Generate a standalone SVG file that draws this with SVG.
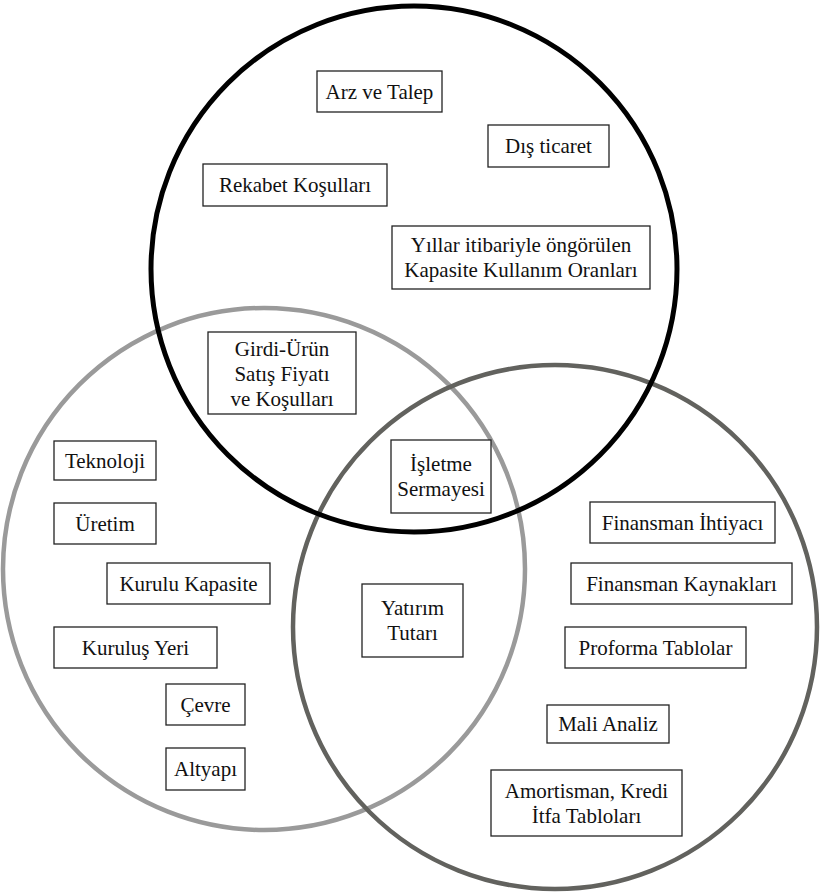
<svg xmlns="http://www.w3.org/2000/svg" width="820" height="894" viewBox="0 0 820 894">
<style>
.c{fill:none}
.b{fill:#fff;stroke:#222;stroke-width:1.3}
.t text{font-family:'Liberation Serif','Times New Roman',serif;font-size:21px;fill:#111;text-anchor:middle;dominant-baseline:central}
</style>
<rect width="820" height="894" fill="#fff"/>
<g id="circles">
<circle id="c-left" class="c" cx="264" cy="569" r="261" stroke="#9a9a9a" stroke-width="4.5"/>
<circle id="c-right" class="c" cx="555" cy="627" r="262" stroke="#62625e" stroke-width="4.5"/>
<circle id="c-top" class="c" cx="414" cy="269" r="263" stroke="#000" stroke-width="5"/>
</g>
<g class="t" font-family="Liberation Serif, Times New Roman, serif" font-size="21">
<g id="n1"><rect class="b" x="317" y="71" width="125" height="41"/><text x="379.5" y="91.5">Arz ve Talep</text></g>
<g id="n2"><rect class="b" x="488" y="125" width="121" height="42"/><text x="548.5" y="146">Dış ticaret</text></g>
<g id="n3"><rect class="b" x="203" y="164" width="184" height="42"/><text x="295" y="185">Rekabet Koşulları</text></g>
<g id="n4"><rect class="b" x="392" y="226" width="258" height="63"/><text x="521" y="245">Yıllar itibariyle öngörülen</text><text x="521" y="270">Kapasite Kullanım Oranları</text></g>
<g id="n5"><rect class="b" x="208" y="332" width="148" height="82"/><text x="282" y="349">Girdi-Ürün</text><text x="282" y="374">Satış Fiyatı</text><text x="282" y="399">ve Koşulları</text></g>
<g id="n6"><rect class="b" x="391" y="440" width="100" height="73"/><text x="441" y="464">İşletme</text><text x="441" y="489">Sermayesi</text></g>
<g id="n7"><rect class="b" x="54" y="441" width="102" height="39"/><text x="105" y="460.5">Teknoloji</text></g>
<g id="n8"><rect class="b" x="54" y="503" width="102" height="41"/><text x="105" y="523.5">Üretim</text></g>
<g id="n9"><rect class="b" x="107" y="563" width="163" height="41"/><text x="188.5" y="583.5">Kurulu Kapasite</text></g>
<g id="n10"><rect class="b" x="54" y="627" width="163" height="41"/><text x="135.5" y="647.5">Kuruluş Yeri</text></g>
<g id="n11"><rect class="b" x="166" y="684" width="79" height="41"/><text x="205.5" y="704.5">Çevre</text></g>
<g id="n12"><rect class="b" x="166" y="748" width="79" height="42"/><text x="205.5" y="769">Altyapı</text></g>
<g id="n13"><rect class="b" x="362" y="584" width="101" height="73"/><text x="412.5" y="608">Yatırım</text><text x="412.5" y="633">Tutarı</text></g>
<g id="n14"><rect class="b" x="590" y="502" width="185" height="41"/><text x="682.5" y="522.5">Finansman İhtiyacı</text></g>
<g id="n15"><rect class="b" x="571" y="563" width="221" height="41"/><text x="681.5" y="583.5">Finansman Kaynakları</text></g>
<g id="n16"><rect class="b" x="565" y="627" width="181" height="41"/><text x="655.5" y="647.5">Proforma Tablolar</text></g>
<g id="n17"><rect class="b" x="547" y="705" width="122" height="38"/><text x="608" y="724">Mali Analiz</text></g>
<g id="n18"><rect class="b" x="491" y="770" width="191" height="66"/><text x="586.5" y="790.5">Amortisman, Kredi</text><text x="586.5" y="815.5">İtfa Tabloları</text></g>
</g>
</svg>
